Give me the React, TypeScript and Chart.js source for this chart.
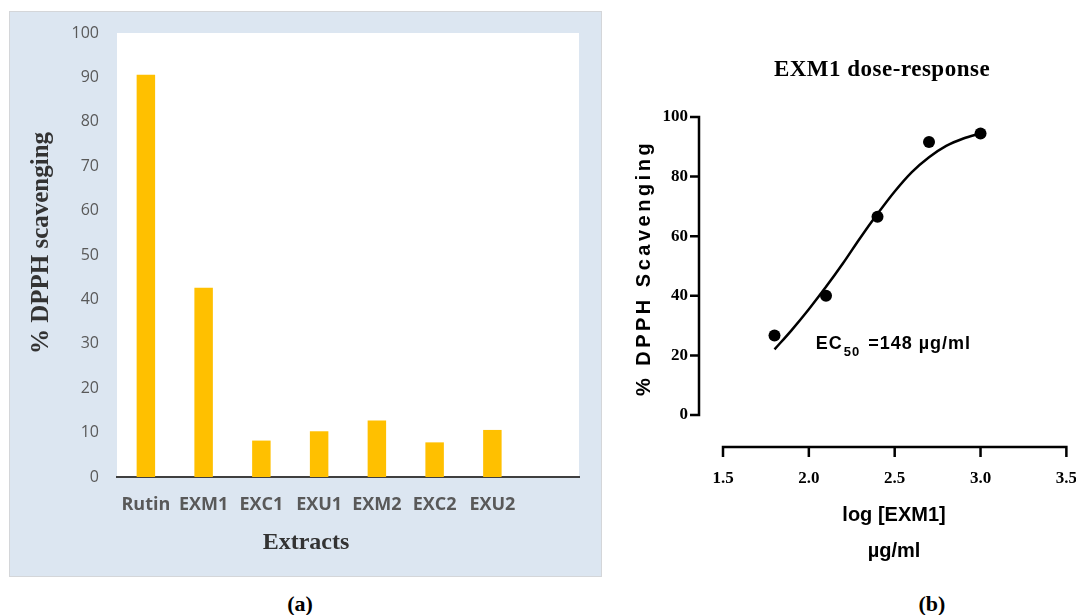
import React, { useEffect, useRef } from 'react';
import { Chart, registerables } from 'chart.js';

Chart.register(...registerables);

// ---------- Panel (a): bar chart ----------
const EXTRACTS = ['Rutin', 'EXM1', 'EXC1', 'EXU1', 'EXM2', 'EXC2', 'EXU2'];
const DPPH_SCAVENGING = [90.6, 42.6, 8.2, 10.3, 12.7, 7.8, 10.6];
const BAR_Y_TICKS = [0, 10, 20, 30, 40, 50, 60, 70, 80, 90, 100];
const BAR_Y_TITLE = '% DPPH scavenging';
const BAR_X_TITLE = 'Extracts';

// ---------- Panel (b): dose-response ----------
const LOG_EXM1 = [1.8, 2.1, 2.4, 2.7, 3.0];
const EXM1_RESPONSE = [26.7, 40.0, 66.5, 91.6, 94.5];
const FIT_LOG_EXM1 = [1.8, 1.9, 2.0, 2.1, 2.2, 2.3, 2.4, 2.5, 2.6, 2.7, 2.8, 2.9, 3.0];
const FIT_RESPONSE = [22, 28.5, 35.5, 43, 51, 59.5, 67.5, 75, 81.5, 86.5, 90.3, 92.8, 94.5];
const DOSE_X_TICKS = [1.5, 2.0, 2.5, 3.0, 3.5];
const DOSE_Y_TICKS = [0, 20, 40, 60, 80, 100];
const DOSE_TITLE = 'EXM1 dose-response';
const DOSE_Y_TITLE = '% DPPH Scavenging';
const DOSE_X_TITLE = 'log [EXM1]';
const DOSE_X_UNIT = 'µg/ml';
const EC50_MAIN = 'EC';
const EC50_SUB = '50';
const EC50_REST = ' =148 µg/ml';
const EC50_AT_X = 2.04;
const EC50_AT_Y = 22;

const SERIF = "'Liberation Serif', 'Times New Roman', serif";
const SANS = "'Liberation Sans', Arial, sans-serif";
const OPEN = "'Open Sans', 'Noto Sans', sans-serif";

function setSpacing(ctx: any, v: string) {
  if ('letterSpacing' in ctx) ctx.letterSpacing = v;
}

const whiteArea = {
  id: 'whiteArea',
  beforeDraw(chart: any) {
    const { ctx, chartArea: ca } = chart;
    ctx.save();
    ctx.fillStyle = '#ffffff';
    ctx.fillRect(ca.left, ca.top, ca.right - ca.left, ca.bottom - ca.top);
    ctx.restore();
  },
};

const barTitles = {
  id: 'barTitles',
  afterDraw(chart: any) {
    const { ctx, chartArea: ca } = chart;
    ctx.save();
    ctx.fillStyle = '#333333';
    ctx.font = `bold 24px ${SERIF}`;
    ctx.textAlign = 'center';
    ctx.textBaseline = 'middle';
    ctx.fillText(BAR_X_TITLE, 296, 531);
    ctx.font = `bold 25px ${SERIF}`;
    ctx.translate(32, (ca.top + ca.bottom) / 2 - 12);
    ctx.rotate(-Math.PI / 2);
    ctx.fillText(BAR_Y_TITLE, 0, 0);
    ctx.restore();
  },
};

function BarPanel() {
  const ref = useRef<HTMLCanvasElement>(null);
  useEffect(() => {
    const labels = [...EXTRACTS, ''];
    const values: (number | null)[] = [...DPPH_SCAVENGING, null];
    const chart = new Chart(ref.current as HTMLCanvasElement, {
      type: 'bar',
      data: {
        labels,
        datasets: [
          {
            data: values,
            backgroundColor: '#FFC000',
            borderWidth: 0,
            barPercentage: 0.32,
            categoryPercentage: 1,
          },
        ],
      },
      options: {
        animation: false,
        responsive: false,
        maintainAspectRatio: false,
        layout: { padding: { top: 21, right: 22, left: 0, bottom: 0 } },
        plugins: { legend: { display: false }, tooltip: { enabled: false } },
        scales: {
          x: {
            grid: { display: false, drawTicks: false },
            border: { display: true, color: '#3f3f3f', width: 2 },
            ticks: {
              color: '#595959',
              font: { family: OPEN, size: 18, weight: 'bold' },
              padding: 17,
              maxRotation: 0,
              autoSkip: false,
            },
            afterFit: (s: any) => {
              s.height = 99;
            },
          },
          y: {
            min: 0,
            max: 100,
            afterBuildTicks: (s: any) => {
              s.ticks = BAR_Y_TICKS.map((v) => ({ value: v }));
            },
            ticks: {
              color: '#595959',
              font: { family: OPEN, size: 16, lineHeight: 0.3 },
              padding: 18,
            },
            grid: { display: false, drawTicks: false },
            border: { display: false },
            afterFit: (s: any) => {
              s.width = 107;
            },
          },
        },
      } as any,
      plugins: [whiteArea, barTitles],
    });
    return () => chart.destroy();
  }, []);
  return (
    <div
      style={{
        position: 'absolute',
        left: 9,
        top: 11,
        width: 593,
        height: 566,
        boxSizing: 'border-box',
        border: '1px solid #d4d6d9',
        background: '#dce6f1',
      }}
    >
      <canvas ref={ref} width={591} height={564} style={{ display: 'block', width: 591, height: 564 }} />
    </div>
  );
}

const doseDecor = {
  id: 'doseDecor',
  afterDraw(chart: any) {
    const { ctx, chartArea: ca } = chart;
    const xs = chart.scales.x;
    const ys = chart.scales.y;
    ctx.save();
    ctx.strokeStyle = '#000';
    ctx.lineWidth = 2.5;
    ctx.lineCap = 'butt';
    // detached y axis
    const ax = ca.left - 24;
    const yTop = ys.getPixelForValue(DOSE_Y_TICKS[DOSE_Y_TICKS.length - 1]);
    const yBot = ys.getPixelForValue(DOSE_Y_TICKS[0]);
    ctx.beginPath();
    ctx.moveTo(ax, yTop - 1.25);
    ctx.lineTo(ax, yBot + 1.25);
    DOSE_Y_TICKS.forEach((v) => {
      const py = ys.getPixelForValue(v);
      ctx.moveTo(ax - 9, py);
      ctx.lineTo(ax, py);
    });
    ctx.stroke();
    // detached x axis
    const ay = ca.bottom + 32;
    const xL = xs.getPixelForValue(DOSE_X_TICKS[0]);
    const xR = xs.getPixelForValue(DOSE_X_TICKS[DOSE_X_TICKS.length - 1]);
    ctx.beginPath();
    ctx.moveTo(xL - 1.25, ay);
    ctx.lineTo(xR + 1.25, ay);
    DOSE_X_TICKS.forEach((v) => {
      const px = xs.getPixelForValue(v);
      ctx.moveTo(px, ay);
      ctx.lineTo(px, ay + 10);
    });
    ctx.stroke();

    ctx.fillStyle = '#000';
    // chart title
    ctx.textAlign = 'center';
    ctx.textBaseline = 'middle';
    ctx.font = `bold 23px ${SERIF}`;
    setSpacing(ctx, '0.5px');
    ctx.fillText(DOSE_TITLE, 279, 70.5);
    setSpacing(ctx, '0px');
    // x title & unit
    ctx.font = `bold 20px ${SANS}`;
    ctx.fillText(DOSE_X_TITLE, 291, 515.5);
    ctx.fillText(DOSE_X_UNIT, 291, 551.5);
    // y title
    ctx.save();
    ctx.translate(41, 268);
    ctx.rotate(-Math.PI / 2);
    setSpacing(ctx, '3.5px');
    ctx.fillText(DOSE_Y_TITLE, 0, 0);
    setSpacing(ctx, '0px');
    ctx.restore();
    // EC50 annotation
    ctx.textAlign = 'left';
    ctx.textBaseline = 'alphabetic';
    setSpacing(ctx, '1px');
    let ex = xs.getPixelForValue(EC50_AT_X);
    const ey = ys.getPixelForValue(EC50_AT_Y);
    ctx.font = `bold 18px ${SANS}`;
    ctx.fillText(EC50_MAIN, ex, ey);
    ex += ctx.measureText(EC50_MAIN).width + 1;
    ctx.font = `bold 13px ${SANS}`;
    ctx.fillText(EC50_SUB, ex, ey + 7);
    ex += ctx.measureText(EC50_SUB).width + 2;
    ctx.font = `bold 18px ${SANS}`;
    ctx.fillText(EC50_REST, ex, ey);
    setSpacing(ctx, '0px');
    ctx.restore();
  },
};

function DosePanel() {
  const ref = useRef<HTMLCanvasElement>(null);
  useEffect(() => {
    const points = LOG_EXM1.map((x, i) => ({ x, y: EXM1_RESPONSE[i] }));
    const fit = FIT_LOG_EXM1.map((x, i) => ({ x, y: FIT_RESPONSE[i] }));
    const chart = new Chart(ref.current as HTMLCanvasElement, {
      type: 'scatter',
      data: {
        datasets: [
          {
            label: 'fit',
            data: fit,
            showLine: true,
            borderColor: '#000',
            borderWidth: 2.5,
            pointRadius: 0,
            cubicInterpolationMode: 'monotone',
            fill: false,
          },
          {
            label: 'EXM1',
            data: points,
            showLine: false,
            backgroundColor: '#000',
            borderColor: '#000',
            pointRadius: 6,
            pointBorderWidth: 0,
          },
        ],
      },
      options: {
        animation: false,
        responsive: false,
        maintainAspectRatio: false,
        clip: false,
        layout: { padding: { top: 117, right: 0, left: 0, bottom: 55 } },
        plugins: { legend: { display: false }, tooltip: { enabled: false } },
        scales: {
          x: {
            type: 'linear',
            min: DOSE_X_TICKS[0],
            max: DOSE_X_TICKS[DOSE_X_TICKS.length - 1],
            afterBuildTicks: (s: any) => {
              s.ticks = DOSE_X_TICKS.map((v) => ({ value: v }));
            },
            ticks: {
              color: '#000',
              font: { family: SERIF, size: 17, weight: 'bold' },
              padding: 53,
              maxRotation: 0,
              autoSkip: false,
              callback: (v: any) => Number(v).toFixed(1),
            },
            grid: { display: false, drawTicks: false },
            border: { display: false },
            afterFit: (s: any) => {
              s.height = 100;
            },
          },
          y: {
            type: 'linear',
            min: DOSE_Y_TICKS[0],
            max: DOSE_Y_TICKS[DOSE_Y_TICKS.length - 1],
            afterBuildTicks: (s: any) => {
              s.ticks = DOSE_Y_TICKS.map((v) => ({ value: v }));
            },
            ticks: {
              color: '#000',
              font: { family: SERIF, size: 17, weight: 'bold' },
              padding: 35,
            },
            grid: { display: false, drawTicks: false },
            border: { display: false },
            afterFit: (s: any) => {
              s.width = 120;
            },
          },
        },
      } as any,
      plugins: [doseDecor],
    });
    return () => chart.destroy();
  }, []);
  return (
    <canvas
      ref={ref}
      width={527}
      height={570}
      style={{ position: 'absolute', left: 603, top: 0, width: 527, height: 570 }}
    />
  );
}

const captionStyle: React.CSSProperties = {
  position: 'absolute',
  top: 592,
  width: 60,
  textAlign: 'center',
  fontFamily: SERIF,
  fontWeight: 'bold',
  fontSize: 22,
  lineHeight: '24px',
  color: '#000',
};

export default function App() {
  return (
    <div
      style={{
        position: 'fixed',
        left: 0,
        top: 0,
        width: 1076,
        height: 615,
        overflow: 'hidden',
        background: '#fff',
      }}
    >
      <BarPanel />
      <DosePanel />
      <div style={{ ...captionStyle, left: 270 }}>(a)</div>
      <div style={{ ...captionStyle, left: 902 }}>(b)</div>
    </div>
  );
}
